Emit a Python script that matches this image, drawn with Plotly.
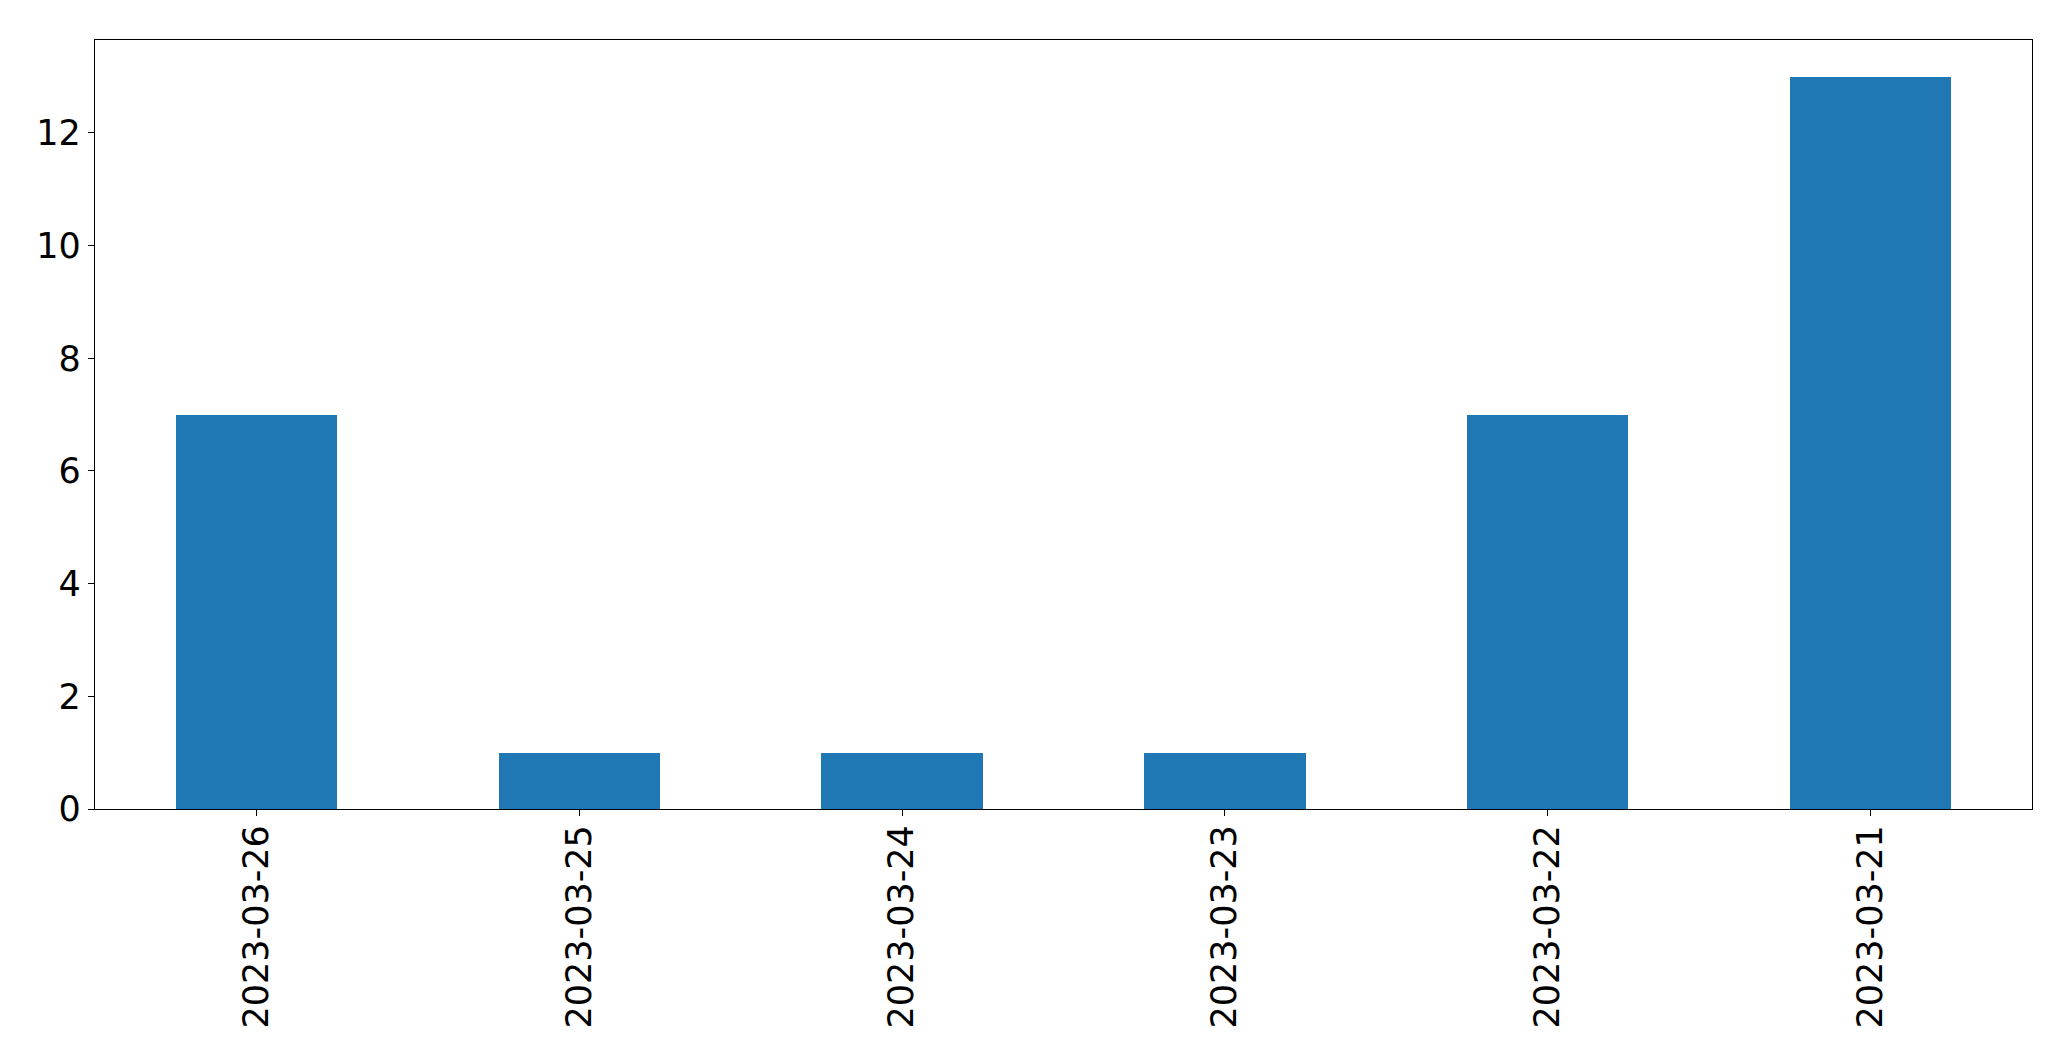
import plotly.graph_objects as go

dates = ["2023-03-26", "2023-03-25", "2023-03-24", "2023-03-23", "2023-03-22", "2023-03-21"]
counts = [7, 1, 1, 1, 7, 13]

fig = go.Figure(go.Bar(x=dates, y=counts, width=0.5, marker=dict(color="#1f77b4", line=dict(width=0))))

fig.update_layout(
    width=2071, height=1061,
    margin=dict(l=86.5, r=46.5, t=31.5, b=260, autoexpand=False),
    paper_bgcolor="white", plot_bgcolor="white",
    font=dict(family="DejaVu Sans", size=35, color="black"),
    showlegend=False,
    bargap=0,
)
fig.update_xaxes(
    type="category", range=[-0.5, 5.5],
    showline=True, linecolor="black", linewidth=1.3, mirror=True,
    ticks="outside", ticklen=6, tickwidth=1.3, tickcolor="black",
    tickangle=-90, showgrid=False, zeroline=False, automargin=False,
    ticklabelstandoff=-5,
)
fig.update_yaxes(
    range=[0, 13.65], tickvals=[0, 2, 4, 6, 8, 10, 12],
    showline=True, linecolor="black", linewidth=1.3, mirror=True,
    ticks="outside", ticklen=6, tickwidth=1.3, tickcolor="black",
    showgrid=False, zeroline=False, automargin=False,
)

fig.write_html("out.html")
